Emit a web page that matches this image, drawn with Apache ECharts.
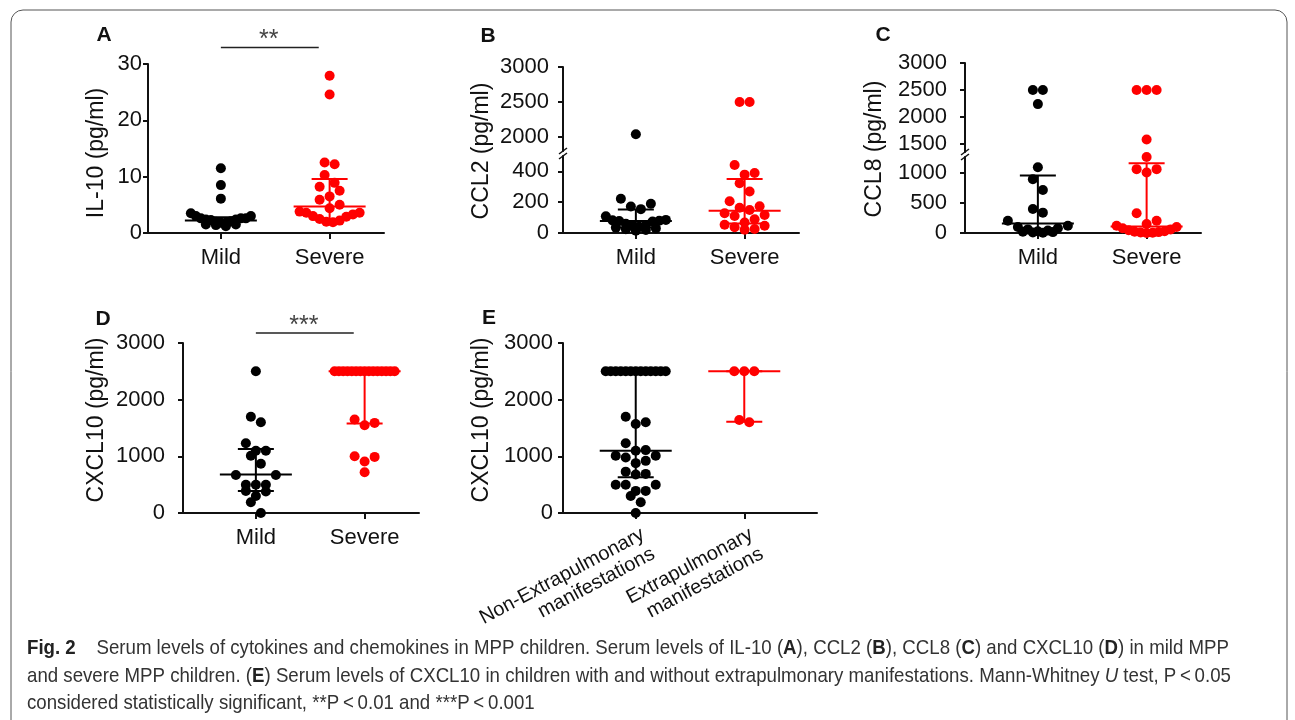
<!DOCTYPE html>
<html><head><meta charset="utf-8">
<script src="https://cdn.jsdelivr.net/npm/echarts@6.0.0/dist/echarts.min.js"></script>
<style>html,body{margin:0;padding:0;background:#fff}#c{width:1295px;height:720px}</style>
</head><body><div id="c"></div>
<script>
// ---------------- data ----------------
const groupNames = ['Mild', 'Severe'];
const extraNames = ['Non-Extrapulmonary\nmanifestations', 'Extrapulmonary\nmanifestations'];

// A: IL-10 (pg/ml)
const il10Ticks = [0, 10, 20, 30];
const il10Mild = [11.5, 8.5, 6.1, 3.5, 3.0, 3.0, 2.6, 2.6, 2.6, 2.4, 2.4, 2.3, 2.1, 2.0, 1.8, 1.8, 1.5, 1.5, 1.4, 1.2];
const il10Severe = [27.9, 24.6, 12.5, 12.2, 10.3, 8.9, 8.2, 7.5, 6.5, 5.9, 5.0, 4.4, 3.8, 3.6, 3.6, 3.3, 3.0, 2.9, 2.5, 2.2, 2.0, 1.9];
const il10Median = [2.2, 4.7];
const il10Q1 = [1.7, 2.4];
const il10Q3 = [2.8, 9.6];

// B: CCL2 (pg/ml), broken axis
const ccl2LowTicks = [0, 200, 400];
const ccl2HighTicks = [2000, 2500, 3000];
const ccl2Mild = [2040, 222, 190, 172, 155, 108, 85, 82, 80, 78, 75, 60, 50, 45, 40, 35, 30, 25, 20, 15];
const ccl2Severe = [2500, 2500, 442, 390, 379, 323, 270, 206, 174, 164, 149, 128, 117, 110, 89, 68, 53, 47, 38, 26, 21];
const ccl2Median = [78, 145];
const ccl2Q1 = [35, 62];
const ccl2Q3 = [153, 350];

// C: CCL8 (pg/ml), broken axis
const ccl8LowTicks = [0, 500, 1000];
const ccl8HighTicks = [1500, 2000, 2500, 3000];
const ccl8Mild = [2500, 2500, 2238, 1100, 900, 720, 400, 340, 206, 120, 100, 80, 60, 40, 30, 20, 15, 10, 5];
const ccl8Severe = [2500, 2500, 2500, 1582, 1270, 1067, 1067, 1010, 330, 206, 150, 120, 100, 80, 60, 45, 30, 20, 15, 10, 5, 0];
const ccl8Median = [160, 110];
const ccl8Q1 = [30, 20];
const ccl8Q3 = [960, 1165];

// D: CXCL10 (pg/ml), mild vs severe
const cxcl10Ticks = [0, 1000, 2000, 3000];
const cxcl10Mild = [2500, 1700, 1600, 1230, 1100, 1100, 1010, 870, 670, 670, 500, 500, 500, 390, 380, 300, 190, 0];
const cxcl10Severe = [2500, 2500, 2500, 2500, 2500, 2500, 2500, 2500, 2500, 2500, 2500, 2500, 2500, 2500, 2500, 1650, 1590, 1550, 1000, 990, 910, 720];
const cxcl10Median = [680, 2500];
const cxcl10Q1 = [390, 1580];
const cxcl10Q3 = [1130, 2500];

// E: CXCL10 (pg/ml), extrapulmonary manifestations
const cxcl10NonExtra = [2500, 2500, 2500, 2500, 2500, 2500, 2500, 2500, 2500, 2500, 2500, 2500, 2500, 1700, 1600, 1570, 1230, 1110, 1100, 1010, 1010, 980, 920, 880, 730, 690, 680, 500, 500, 500, 390, 390, 300, 190, 0];
const cxcl10Extra = [2500, 2500, 2500, 1640, 1600];
const extraMedian = [1100, 2500];
const extraQ1 = [630, 1610];
const extraQ3 = [2500, 2500];

const captionLines = [
  '{b|Fig. 2}    Serum levels of cytokines and chemokines in MPP children. Serum levels of IL-10 ({b|A}), CCL2 ({b|B}), CCL8 ({b|C}) and CXCL10 ({b|D}) in mild MPP',
  'and severe MPP children. ({b|E}) Serum levels of CXCL10 in children with and without extrapulmonary manifestations. Mann-Whitney {i|U} test, P\u2009<\u20090.05',
  'considered statistically significant, **P\u2009<\u20090.01 and ***P\u2009<\u20090.001'
];

// ---------------- layout / style ----------------
const FONT = "'Liberation Sans', Arial, Helvetica, sans-serif";
const INK = '#111';
const BLACK = '#000';
const RED = '#ff0000';

const grids = [
  {left: 148, top: 64, width: 236, height: 169, xmax: 2.5, ymin: 0, ymax: 30, ticks: il10Ticks, showX: true, lm: 6},      // 0 A
  {left: 563, top: 156, width: 236, height: 77, xmax: 2.5, ymin: 0, ymax: 500, ticks: ccl2LowTicks, showX: true, lm: 14},   // 1 B low
  {left: 563, top: 67, width: 236, height: 84, xmax: 2.5, ymin: 1800, ymax: 3000, ticks: ccl2HighTicks, showX: false, lm: 14}, // 2 B high
  {left: 965, top: 157, width: 236, height: 76, xmax: 2.5, ymin: 0, ymax: 1270, ticks: ccl8LowTicks, showX: true, lm: 18},  // 3 C low
  {left: 965, top: 63, width: 236, height: 89, xmax: 2.5, ymin: 1350, ymax: 3000, ticks: ccl8HighTicks, showX: false, lm: 18}, // 4 C high
  {left: 183, top: 343, width: 236, height: 170, xmax: 2.5, ymin: 0, ymax: 3000, ticks: cxcl10Ticks, showX: true, lm: 18},  // 5 D
  {left: 563, top: 343, width: 254, height: 170, xmax: 2.67, ymin: 0, ymax: 3000, ticks: cxcl10Ticks, showX: true, rotated: true, lm: 10} // 6 E
];

const chart = echarts.init(document.getElementById('c'), null, {renderer: 'canvas'});

const option = {
  animation: false,
  backgroundColor: '#fff',
  grid: grids.map(g => ({left: g.left, top: g.top, width: g.width, height: g.height, containLabel: false, outerBoundsMode: 'none'})),
  xAxis: grids.map((g, i) => ({
    type: 'value', gridIndex: i, min: 0.33, max: g.xmax, show: g.showX,
    splitLine: {show: false},
    axisLine: {show: true, onZero: false, lineStyle: {color: INK, width: 2}},
    axisTick: {show: true, length: 6, customValues: [1, 2], lineStyle: {color: INK, width: 2}},
    axisLabel: g.rotated ? {
      customValues: [1.115, 2.115], rotate: 28, margin: 30,
      formatter: v => extraNames[Math.round(v) - 1],
      fontSize: 20, lineHeight: 22, fontFamily: FONT, color: INK
    } : {
      customValues: [1, 2], margin: 14,
      formatter: v => groupNames[Math.round(v) - 1],
      fontSize: 22, fontFamily: FONT, color: INK
    }
  })),
  yAxis: grids.map((g, i) => ({
    type: 'value', gridIndex: i, min: g.ymin, max: g.ymax,
    splitLine: {show: false},
    axisLine: {show: true, onZero: false, lineStyle: {color: INK, width: 2}},
    axisTick: {show: true, length: 5, customValues: g.ticks, lineStyle: {color: INK, width: 2}},
    axisLabel: {customValues: g.ticks, formatter: v => String(v), margin: g.lm, fontSize: 22, fontFamily: FONT, color: INK}
  })),
  series: []
};
chart.setOption(option);

// ---------- scatter dot plot layout (rows of nearby values spread horizontally) ----------
function swarm(values, center, gridIndex) {
  const halfW = 30, step = 10, binH = 11;
  const finder = {gridIndex: gridIndex};
  const unit = chart.convertToPixel(finder, [center + 1, grids[gridIndex].ymin])[0] - chart.convertToPixel(finder, [center, grids[gridIndex].ymin])[0];
  const pts = values.map(v => ({v: v, py: chart.convertToPixel(finder, [center, v])[1]}));
  pts.sort((a, b) => a.py - b.py);
  const out = [];
  let i = 0;
  while (i < pts.length) {
    let j = i;
    const y0 = pts[i].py;
    while (j < pts.length && pts[j].py - y0 < binH) j++;
    const bin = pts.slice(i, j);
    const n = bin.length;
    const sp = n > 1 ? Math.min(step, 2 * halfW / (n - 1)) : 0;
    const offs = [];
    for (let k = 0; k < n; k++) offs.push((k - (n - 1) / 2) * sp);
    offs.sort((a, b) => Math.abs(b) - Math.abs(a) || a - b);
    bin.forEach((p, k) => out.push([center + offs[k] / unit, p.v]));
    i = j;
  }
  return out;
}

const series = [];
function addScatter(values, center, gridIndex, color) {
  series.push({
    type: 'scatter', xAxisIndex: gridIndex, yAxisIndex: gridIndex, clip: false,
    symbol: 'circle', symbolSize: 10, itemStyle: {color: color, opacity: 1},
    data: swarm(values, center, gridIndex), z: 2, silent: true
  });
}
function addSplitScatter(values, center, lowGrid, highGrid, threshold, color) {
  addScatter(values.filter(v => v <= threshold), center, lowGrid, color);
  addScatter(values.filter(v => v > threshold), center, highGrid, color);
}
function addSummary(center, med, q1, q3, gridIndex, color) {
  series.push({
    type: 'custom', xAxisIndex: gridIndex, yAxisIndex: gridIndex, clip: false, z: 3, silent: true,
    data: [[center, med, q1, q3]],
    encode: {x: 0, y: [1, 2, 3]},
    renderItem: function (params, api) {
      const pm = api.coord([api.value(0), api.value(1)]);
      const p1 = api.coord([api.value(0), api.value(2)]);
      const p3 = api.coord([api.value(0), api.value(3)]);
      const c = pm[0];
      const st = {stroke: color, lineWidth: 2};
      return {type: 'group', children: [
        {type: 'line', shape: {x1: c, y1: p1[1], x2: c, y2: p3[1]}, style: st},
        {type: 'line', shape: {x1: c - 36, y1: pm[1], x2: c + 36, y2: pm[1]}, style: st},
        {type: 'line', shape: {x1: c - 18, y1: p1[1], x2: c + 18, y2: p1[1]}, style: st},
        {type: 'line', shape: {x1: c - 18, y1: p3[1], x2: c + 18, y2: p3[1]}, style: st}
      ]};
    }
  });
}

// A
addScatter(il10Mild, 1, 0, BLACK);
addScatter(il10Severe, 2, 0, RED);
addSummary(1, il10Median[0], il10Q1[0], il10Q3[0], 0, BLACK);
addSummary(2, il10Median[1], il10Q1[1], il10Q3[1], 0, RED);
// B
addSplitScatter(ccl2Mild, 1, 1, 2, 1000, BLACK);
addSplitScatter(ccl2Severe, 2, 1, 2, 1000, RED);
addSummary(1, ccl2Median[0], ccl2Q1[0], ccl2Q3[0], 1, BLACK);
addSummary(2, ccl2Median[1], ccl2Q1[1], ccl2Q3[1], 1, RED);
// C
addSplitScatter(ccl8Mild, 1, 3, 4, 1300, BLACK);
addSplitScatter(ccl8Severe, 2, 3, 4, 1300, RED);
addSummary(1, ccl8Median[0], ccl8Q1[0], ccl8Q3[0], 3, BLACK);
addSummary(2, ccl8Median[1], ccl8Q1[1], ccl8Q3[1], 3, RED);
// D
addScatter(cxcl10Mild, 1, 5, BLACK);
addScatter(cxcl10Severe, 2, 5, RED);
addSummary(1, cxcl10Median[0], cxcl10Q1[0], cxcl10Q3[0], 5, BLACK);
addSummary(2, cxcl10Median[1], cxcl10Q1[1], cxcl10Q3[1], 5, RED);
// E
addScatter(cxcl10NonExtra, 1, 6, BLACK);
addScatter(cxcl10Extra, 2, 6, RED);
addSummary(1, extraMedian[0], extraQ1[0], extraQ3[0], 6, BLACK);
addSummary(2, extraMedian[1], extraQ1[1], extraQ3[1], 6, RED);

// ---------- decorations ----------
const px = (g, x, y) => chart.convertToPixel({gridIndex: g}, [x, y]);
const graphics = [];
graphics.push({type: 'rect', shape: {x: 11, y: 10, width: 1276, height: 740, r: 12}, style: {fill: 'none', stroke: '#555', lineWidth: 1}, silent: true, z: 0});

function txt(x, y, text, size, weight, rot, color) {
  graphics.push({type: 'text', x: x, y: y, rotation: rot || 0, silent: true, z: 10,
    style: {text: text, fontSize: size, fontWeight: weight || 'normal', fontFamily: FONT, fill: color || INK,
      align: 'center', verticalAlign: 'middle', textAlign: 'center', textVerticalAlign: 'middle'}});
}
// panel letters
txt(104, 35, 'A', 21, 'bold'); txt(488, 36, 'B', 21, 'bold'); txt(883, 35, 'C', 21, 'bold');
txt(103, 319, 'D', 21, 'bold'); txt(489, 318, 'E', 21, 'bold');
// y titles
txt(97, 153, 'IL-10 (pg/ml)', 23, 'normal', Math.PI / 2);
txt(482, 151, 'CCL2 (pg/ml)', 23, 'normal', Math.PI / 2);
txt(875, 149, 'CCL8 (pg/ml)', 23, 'normal', Math.PI / 2);
txt(97, 420, 'CXCL10 (pg/ml)', 23, 'normal', Math.PI / 2);
txt(482, 420, 'CXCL10 (pg/ml)', 23, 'normal', Math.PI / 2);

// significance brackets
function sig(g, yPix, label) {
  const a = px(g, 1, grids[g].ymin)[0], b = px(g, 1.9, grids[g].ymin)[0];
  graphics.push({type: 'line', shape: {x1: a, y1: yPix, x2: b, y2: yPix}, style: {stroke: '#222', lineWidth: 1.5}, silent: true});
  txt((a + b) / 2 - 1, yPix - 7, label, 25, 'normal', 0, '#444');
}
sig(0, 47.5, '**');
sig(5, 333, '***');

// axis break marks
function brk(lowG, highG) {
  const lo = px(lowG, 0.33, grids[lowG].ymax), hi = px(highG, 0.33, grids[highG].ymin);
  const st = {stroke: INK, lineWidth: 1.5};
  graphics.push({type: 'line', shape: {x1: lo[0] - 4, y1: lo[1] + 3, x2: lo[0] + 4, y2: lo[1] - 3}, style: st, silent: true});
  graphics.push({type: 'line', shape: {x1: hi[0] - 4, y1: hi[1] + 3, x2: hi[0] + 4, y2: hi[1] - 3}, style: st, silent: true});
}
brk(1, 2); brk(3, 4);

// caption
const CAP_SIZE = 21;
function measureRich(str) {
  const ctx = document.createElement('canvas').getContext('2d');
  const re = /\{(\w)\|([^}]*)\}|([^{]+)/g;
  let m, w = 0;
  while ((m = re.exec(str))) {
    if (m[3]) { ctx.font = CAP_SIZE + 'px ' + FONT; w += ctx.measureText(m[3]).width; }
    else { ctx.font = (m[1] === 'b' ? 'bold ' : 'italic ') + CAP_SIZE + 'px ' + FONT; w += ctx.measureText(m[2]).width; }
  }
  return w;
}
const capScale = (1229 - 27) / measureRich(captionLines[0]);
const capY = [648, 676, 703];
captionLines.forEach((line, k) => {
  graphics.push({type: 'text', x: 27, y: capY[k], scaleX: capScale, silent: true, z: 10,
    style: {text: line, fontSize: CAP_SIZE, fontFamily: FONT, fill: '#333', verticalAlign: 'middle', textVerticalAlign: 'middle',
      rich: {
        b: {fontSize: CAP_SIZE, fontFamily: FONT, fontWeight: 'bold', fill: '#222'},
        i: {fontSize: CAP_SIZE, fontFamily: FONT, fontStyle: 'italic', fill: '#333'}
      }}});
});

chart.setOption({series: series, graphic: {elements: graphics}});
</script>
</body></html>
